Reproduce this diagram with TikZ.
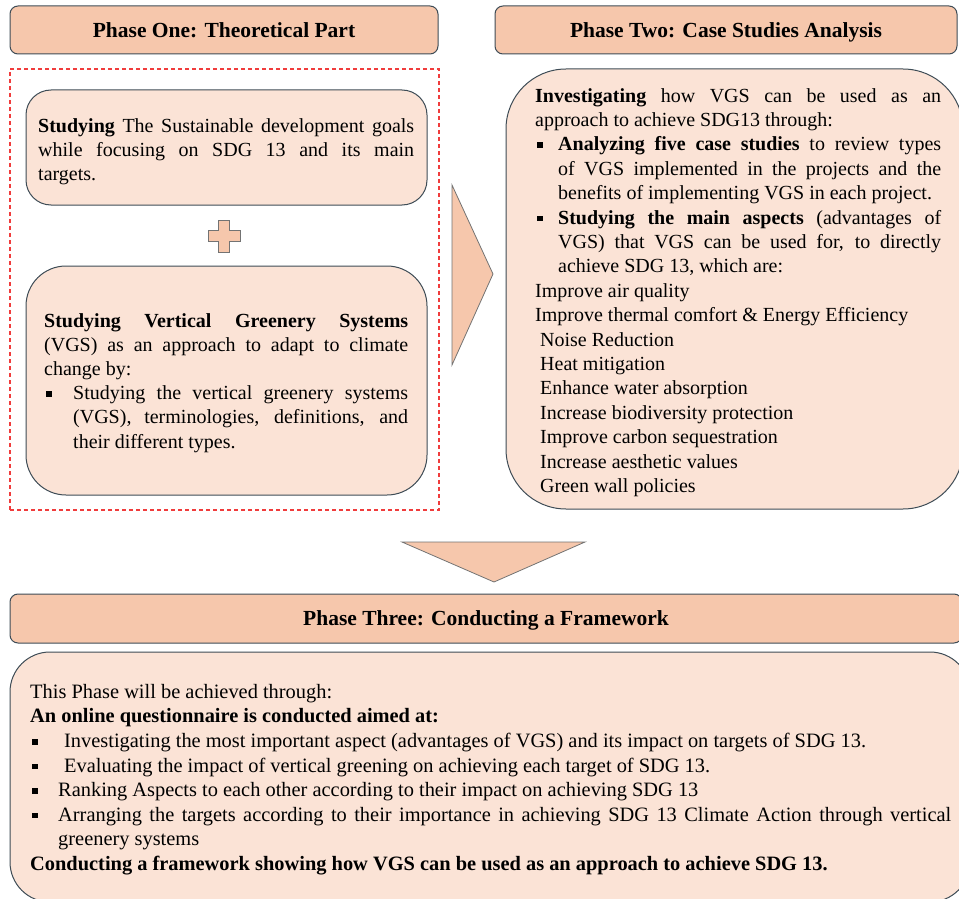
\documentclass[tikz,border=0pt]{standalone}
\usepackage{fontspec}
\setmainfont{Liberation Serif}
\definecolor{hdrfill}{RGB}{246,199,172}
\definecolor{boxfill}{RGB}{251,227,214}
\definecolor{edge}{RGB}{62,76,86}
\definecolor{dashred}{RGB}{240,60,60}
\newcommand{\sqb}[1]{\makebox[#1][l]{\hspace{2pt}\rule[3pt]{5.5pt}{5.5pt}}}
\tikzset{
  hdr/.style={draw=edge, fill=hdrfill, line width=1pt, rounded corners=8pt,
    font=\bfseries\fontsize{21.5}{25}\selectfont, inner sep=0pt, text height=14.5pt, text depth=0pt},
  cbox/.style={draw=edge, fill=boxfill, line width=1pt},
  txt/.style={anchor=north west, inner sep=0pt, align=justify},
  tri/.style={draw=black!55, fill=hdrfill, line width=0.8pt, line join=miter}
}
\begin{document}
\begin{tikzpicture}[x=1pt,y=-1pt]
\useasboundingbox (0,0) rectangle (959,899);
% headers
\node[hdr, minimum width=428pt, minimum height=48pt] (h1) at (224,30) {Phase One: Theoretical Part};
\node[hdr, minimum width=462pt, minimum height=48pt] (h2) at (726,30) {Phase Two: Case Studies Analysis};
% red dashed group
\node[draw=dashred, dashed, dash pattern=on 4pt off 3pt, line width=1.1pt, minimum width=429pt, minimum height=441pt, inner sep=0pt] (grp) at (224.5,289.5) {};
% box 1
\node[cbox, rounded corners=25pt, minimum width=401pt, minimum height=115pt, inner sep=0pt] (b1) at (226.5,147.5) {};
\node[txt, text width=376pt, font=\fontsize{20}{24}\selectfont] (t1) at (38,118)
{\textbf{Studying} The Sustainable development goals\linebreak while focusing on SDG 13 and its main\linebreak targets.};
% plus
\coordinate (pc) at (224,236);
\draw[tri] ([shift={(-5.5,-16)}]pc) -- ++(11,0) -- ++(0,10.5) -- ++(10.5,0) -- ++(0,11) -- ++(-10.5,0) -- ++(0,10.5) -- ++(-11,0) -- ++(0,-10.5) -- ++(-10.5,0) -- ++(0,-11) -- ++(10.5,0) -- cycle;
% box 2
\node[cbox, rounded corners=40pt, minimum width=401pt, minimum height=229pt, inner sep=0pt] (b2) at (226.5,380.5) {};
\node[txt, text width=364pt, font=\fontsize{20}{24.2}\selectfont] (t2) at (44,313)
{\textbf{Studying Vertical Greenery Systems}\linebreak (VGS) as an approach to adapt to climate\linebreak change by:\par
\hangindent=29pt\hangafter=1\sqb{29pt}Studying the vertical greenery systems\linebreak (VGS), terminologies, definitions, and\linebreak their different types.\par};
% right arrow
\coordinate (ra) at (493,274);
\draw[tri] (452,185) -- (ra) -- (452,365) -- cycle;
% right box
\node[cbox, rounded corners=60pt, minimum width=457pt, minimum height=440pt, inner sep=0pt] (b3) at (734.5,289) {};
\node[txt, text width=406pt, font=\fontsize{20}{24.4}\selectfont] (t3) at (535,88)
{\textbf{Investigating} how VGS can be used as an\linebreak approach to achieve SDG13 through:\par
\hangindent=23pt\hangafter=1\sqb{23pt}\textbf{Analyzing five case studies} to review types\linebreak of VGS implemented in the projects and the\linebreak benefits of implementing VGS in each project.\par
\hangindent=23pt\hangafter=1\sqb{23pt}\textbf{Studying the main aspects} (advantages of\linebreak VGS) that VGS can be used for, to directly\linebreak achieve SDG 13, which are:\par
\raggedright
Improve air quality\par
Improve thermal comfort \& Energy Efficiency\par
\hspace*{5pt}Noise Reduction\par
\hspace*{5pt}Heat mitigation\par
\hspace*{5pt}Enhance water absorption\par
\hspace*{5pt}Increase biodiversity protection\par
\hspace*{5pt}Improve carbon sequestration\par
\hspace*{5pt}Increase aesthetic values\par
\hspace*{5pt}Green wall policies\par};
% down arrow
\coordinate (da) at (494,582);
\draw[tri] (402,542) -- (585,542) -- (da) -- cycle;
% phase three
\node[hdr, minimum width=952pt, minimum height=49pt] (h3) at (486,618.5) {Phase Three: Conducting a Framework};
\node[cbox, rounded corners=40pt, minimum width=960pt, minimum height=250pt, inner sep=0pt] (b4) at (490,777) {};
\node[txt, text width=921pt, font=\fontsize{20.4}{24.57}\selectfont] (t4) at (30,684)
{This Phase will be achieved through:\par
\textbf{An online questionnaire is conducted aimed at:}\par
\hangindent=34pt\hangafter=1\sqb{34pt}Investigating the most important aspect (advantages of VGS) and its impact on targets of SDG 13.\par
\hangindent=34pt\hangafter=1\sqb{34pt}Evaluating the impact of vertical greening on achieving each target of SDG 13.\par
\hangindent=28pt\hangafter=1\sqb{28pt}Ranking Aspects to each other according to their impact on achieving SDG 13\par
\hangindent=28pt\hangafter=1\sqb{28pt}Arranging the targets according to their importance in achieving SDG 13 Climate Action through vertical\linebreak greenery systems\par
\textbf{Conducting a framework showing how VGS can be used as an approach to achieve SDG 13.}\par};
\end{tikzpicture}
\end{document}
